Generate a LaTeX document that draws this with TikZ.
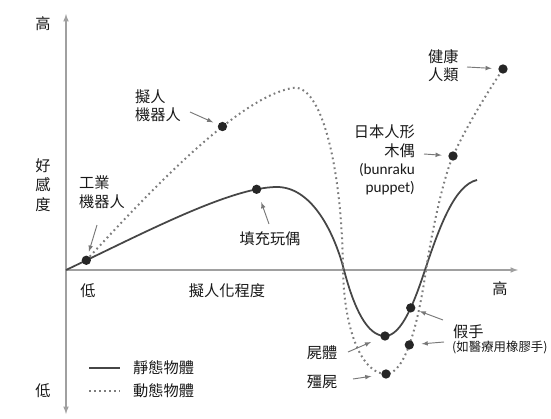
\documentclass[tikz,border=0pt]{standalone}
\usepackage{fontspec}
\setmainfont{Noto Sans CJK TC}
\newfontfamily\latinfont{Carlito}
\usetikzlibrary{arrows}

\definecolor{axisgray}{RGB}{160,160,160}
\definecolor{stillgray}{RGB}{70,70,70}
\definecolor{movinggray}{RGB}{125,125,125}
\definecolor{ptrgray}{RGB}{120,120,120}
\definecolor{inkgray}{RGB}{25,25,25}

\tikzset{
  lbl/.style={font=\fontsize{13pt}{15.5pt}\selectfont, text=inkgray, inner sep=0pt},
  note/.style={font=\fontsize{10.6pt}{12pt}\selectfont, text=inkgray, inner sep=0pt},
  blob/.style={circle, fill=black!85, inner sep=0pt, minimum size=0.28cm},
  axis/.style={draw=axisgray, line width=1.2pt},
  still/.style={draw=stillgray, line width=1.5pt},
  moving/.style={draw=movinggray, line width=1.7pt, dash pattern=on 1.5pt off 2.8pt},
  ptr/.style={draw=ptrgray, line width=0.8pt, -latex},
}

\begin{document}
\begin{tikzpicture}[x=0.03cm, y=-0.03cm]
    \useasboundingbox (0,0) rectangle (551,419);

    % axes
    \coordinate (O) at (66,270);
    \coordinate (top) at (66,14);
    \coordinate (bottom) at (66,414);
    \coordinate (right) at (518,270);
    \draw[axis, latex-latex] (bottom) -- (top);
    \draw[axis, -latex] (O) -- (right);

    \node[lbl] (highY) at (43,24) {高};
    \node[lbl, align=center, font=\fontsize{13pt}{16.6pt}\selectfont] (liking) at (43,185) {好\\感\\度};
    \node[lbl] (lowY) at (43,391) {低};
    \node[lbl] (lowX) at (88,291) {低};
    \node[lbl] (likeness) at (227,291) {擬人化程度};
    \node[lbl] (highX) at (500,289) {高};

    % still objects
    \draw[still] (O) .. controls (140,235) and (230,187) .. coordinate[pos=0.09] (pIndustrial) coordinate[pos=0.87] (pStuffed) (277,187)
        .. controls (310,187) and (333,228) .. (344,270)
        .. controls (354,308) and (367,336) .. (385,336) coordinate (pCorpse)
        .. controls (402,336) and (415,300) .. coordinate[pos=0.58] (pHand) (425,270)
        .. controls (440,225) and (455,185) .. (477,180);

    % moving objects
    \draw[moving] (pIndustrial) .. controls (160,180) and (240,98) .. coordinate[pos=0.62] (pAndroid) (292,88)
        .. controls (322,82) and (342,170) .. (343,270)
        .. controls (344,330) and (362,374) .. (386,374) coordinate (pZombie)
        .. controls (405,374) and (418,325) .. coordinate[pos=0.48] (pHandDyn) (426,270)
        .. controls (432,230) and (444,176) .. (453,156) coordinate (pBunraku)
        .. controls (468,123) and (491,87) .. (503,69) coordinate (pHealthy);

    \node[blob] (dIndustrial) at (pIndustrial) {};
    \node[blob] (dStuffed) at (pStuffed) {};
    \node[blob] (dCorpse) at (pCorpse) {};
    \node[blob] (dHand) at (pHand) {};
    \node[blob] (dAndroid) at (pAndroid) {};
    \node[blob] (dZombie) at (pZombie) {};
    \node[blob] (dHandDyn) at (pHandDyn) {};
    \node[blob] (dBunraku) at (pBunraku) {};
    \node[blob] (dHealthy) at (pHealthy) {};

    % labels
    \node[lbl, align=left, anchor=west, font=\fontsize{13pt}{16.2pt}\selectfont] (industrial) at (79,192.5) {工業\\機器人};
    \node[lbl, align=left, anchor=west] (android) at (135,105.5) {擬人\\機器人};
    \node[lbl] (stuffed) at (270,239) {填充玩偶};
    \node[lbl, align=left, anchor=west] (healthy) at (428,65.5) {健康\\人類};
    \node[lbl, align=right, anchor=east] (bunraku) at (415,160) {日本人形\\木偶\\{\latinfont (bunraku}\\{\latinfont puppet)}};
    \node[lbl, anchor=west] (hand) at (453,332) {假手};
    \node[note, anchor=west] (handNote) at (452,347) {(如醫療用橡膠手)};
    \node[lbl] (corpse) at (322,353) {屍體};
    \node[lbl] (zombie) at (322,382) {殭屍};

    % pointers
    \coordinate (tIndustrial) at (97,225);
    \coordinate (tAndroid) at (190,112);
    \coordinate (tStuffed) at (269,224);
    \coordinate (tHealthy) at (467,67);
    \coordinate (tBunraku) at (424,154);
    \coordinate (tHand) at (443,320);
    \coordinate (tHandDyn) at (444,342);
    \coordinate (tCorpse) at (348,352);
    \coordinate (tZombie) at (353,379);
    \foreach \from/\to/\gap in {tIndustrial/dIndustrial/3.5pt, tAndroid/dAndroid/4.5pt, tStuffed/dStuffed/7.5pt,
        tHealthy/dHealthy/5.5pt, tBunraku/dBunraku/5.5pt, tHand/dHand/4pt, tHandDyn/dHandDyn/6.4pt,
        tCorpse/dCorpse/8.8pt, tZombie/dZombie/8.5pt}
      \draw[ptr, shorten >=\gap] (\from) -- (\to);

    % legend
    \coordinate (keyStillA) at (89,368);
    \coordinate (keyStillB) at (120,368);
    \coordinate (keyMovingA) at (89,391);
    \coordinate (keyMovingB) at (120,391);
    \draw[still] (keyStillA) -- (keyStillB);
    \draw[moving] (keyMovingA) -- (keyMovingB);
    \node[lbl, anchor=west] (stillKey) at (133,368) {靜態物體};
    \node[lbl, anchor=west] (movingKey) at (133,391) {動態物體};
\end{tikzpicture}
\end{document}
